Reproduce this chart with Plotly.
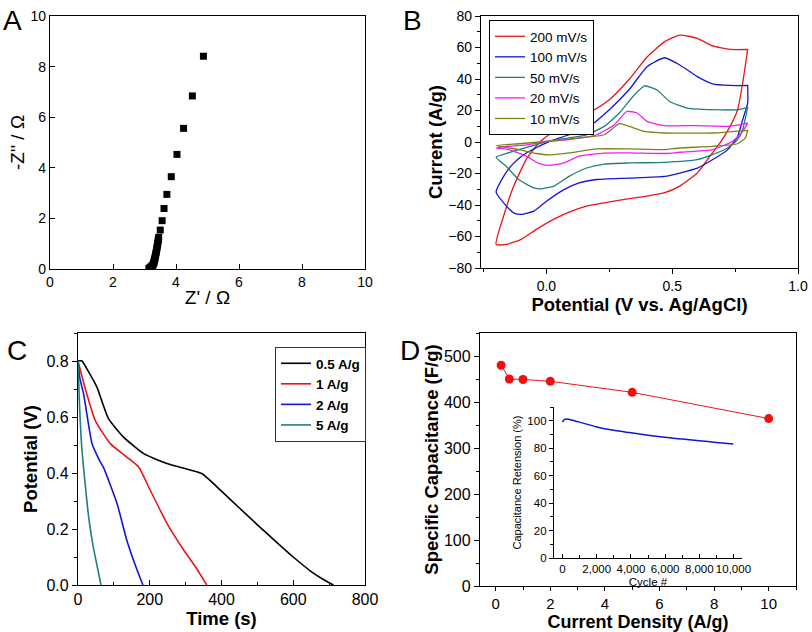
import plotly.graph_objects as go

W, H = 812, 632

# ---------------- Panel A data (Nyquist) ----------------
a_zre = [3.14, 3.16, 3.18, 3.20, 3.22, 3.24, 3.26, 3.28, 3.29, 3.30, 3.31, 3.32, 3.33,
         3.34, 3.35, 3.36, 3.37, 3.38, 3.39, 3.40, 3.41, 3.42, 3.43, 3.44, 3.45,
         3.50, 3.56, 3.62, 3.71, 3.85, 4.03, 4.24, 4.52, 4.87]
a_zim = [0.02, 0.03, 0.05, 0.07, 0.09, 0.12, 0.15, 0.19, 0.23, 0.27, 0.32, 0.37, 0.42,
         0.48, 0.54, 0.60, 0.66, 0.73, 0.80, 0.87, 0.94, 1.01, 1.09, 1.17, 1.25,
         1.54, 1.91, 2.39, 2.95, 3.65, 4.53, 5.56, 6.84, 8.41]

# ---------------- Panel B data (CV loops) ----------------
b_names = ["200 mV/s", "100 mV/s", "50 mV/s", "20 mV/s", "10 mV/s"]
b_colors = ["#e8161b", "#1515d6", "#1f7f7a", "#f01ef0", "#80801a"]
b_v = [
    [-0.2, -0.17, -0.13, -0.08, -0.03, 0.01, 0.09, 0.17, 0.25, 0.33, 0.40, 0.47, 0.53, 0.60, 0.66, 0.73, 0.80,
     0.80, 0.78, 0.76, 0.73, 0.69, 0.65, 0.60, 0.53, 0.47, 0.40, 0.33, 0.23, 0.16, 0.10, 0.03, -0.04, -0.10, -0.16, -0.2],
    [-0.2, -0.17, -0.13, -0.08, -0.03, 0.01, 0.09, 0.17, 0.25, 0.33, 0.40, 0.47, 0.53, 0.60, 0.66, 0.73, 0.80,
     0.80, 0.80, 0.78, 0.76, 0.72, 0.66, 0.60, 0.53, 0.47, 0.33, 0.20, 0.13, 0.07, 0.00, -0.05, -0.10, -0.13, -0.17, -0.2],
    [-0.2, -0.16, -0.11, -0.04, 0.01, 0.09, 0.16, 0.23, 0.29, 0.35, 0.39, 0.44, 0.49, 0.56, 0.66, 0.76, 0.80,
     0.80, 0.78, 0.76, 0.72, 0.66, 0.60, 0.47, 0.33, 0.23, 0.16, 0.09, 0.03, -0.02, -0.05, -0.11, -0.16, -0.2],
    [-0.2, -0.15, -0.07, 0.01, 0.09, 0.20, 0.27, 0.32, 0.36, 0.40, 0.47, 0.60, 0.73, 0.80,
     0.80, 0.78, 0.74, 0.66, 0.53, 0.47, 0.33, 0.23, 0.13, 0.07, 0.01, -0.03, -0.08, -0.15, -0.2],
    [-0.2, -0.11, 0.01, 0.13, 0.23, 0.29, 0.33, 0.39, 0.47, 0.66, 0.80,
     0.80, 0.79, 0.76, 0.66, 0.53, 0.47, 0.33, 0.20, 0.09, 0.01, -0.04, -0.11, -0.2],
]
b_i = [
    [-65, -47, -28, -11, -0.6, 4.6, 12, 18.4, 26.8, 40, 54, 63.7, 67.9, 65.8, 61, 58.8, 58.8,
     58.8, 37.3, 20.5, 9.9, -0.6, -9, -19.6, -28, -32.2, -34.3, -36, -38.6, -40.7, -43.9, -49, -55.5, -61.8, -65, -65],
    [-31.9, -21.8, -13.4, -7, -2.8, 0.3, 4.6, 9.9, 20.5, 33.5, 47.8, 53.5, 48.9, 41.5, 36.9, 35.9, 35.9,
     35.9, 24.7, 14.1, 3.5, -5, -11.3, -16.6, -19.7, -21.8, -22.9, -23.8, -26, -30.2, -37.6, -43.9, -46, -45, -38.6, -31.9],
    [-9.7, -7.3, -4.8, -1.6, 0.5, 2.6, 4.6, 9.9, 18.4, 30, 35.7, 33, 25.7, 21.5, 20.5, 20.5, 22,
     22, 7.8, 1.5, -3.8, -8, -11.2, -12.9, -13.3, -14, -16.5, -21.8, -28, -29.7, -29.1, -23.8, -15.4, -9.7],
    [-3.8, -2.7, -1.6, 0.5, 1.5, 4.6, 11, 19.4, 18.4, 13.1, 10.4, 10.4, 10, 12,
     12, 6.7, 0.4, -4.8, -6.5, -7.3, -6.9, -7, -9, -13.2, -14.9, -13.6, -9, -4.8, -3.8],
    [-2.3, -1.1, 0.5, 2.6, 4.6, 11.6, 9.9, 6.7, 5.7, 5.7, 7.4,
     7.4, 2.5, -1.1, -2.8, -3.8, -4.8, -4.4, -4.4, -6.9, -8.2, -7.3, -4.8, -2.3],
]

# ---------------- Panel C data (discharge) ----------------
c_names = ["0.5 A/g", "1 A/g", "2 A/g", "5 A/g"]
c_colors = ["#000000", "#e8161b", "#1515d6", "#1f7f7a"]
c_t = [
    [0, 11, 30, 53, 85, 127, 183, 248, 300, 345, 400, 450, 500, 550, 600, 650, 690, 712],
    [0, 8, 25, 48, 90, 136, 170, 197, 248, 294, 330, 359],
    [0, 5, 16, 39, 62, 71, 109, 136, 160, 181],
    [0, 4, 10, 20, 30, 42, 53, 64],
]
c_p = [
    [0.80, 0.80, 0.76, 0.706, 0.594, 0.528, 0.469, 0.434, 0.415, 0.398, 0.335, 0.275, 0.215, 0.157, 0.10,
     0.048, 0.015, 0.0],
    [0.80, 0.76, 0.68, 0.588, 0.505, 0.457, 0.42, 0.35, 0.22, 0.126, 0.06, 0.0],
    [0.80, 0.74, 0.68, 0.505, 0.44, 0.42, 0.29, 0.16, 0.07, 0.0],
    [0.80, 0.65, 0.50, 0.36, 0.24, 0.14, 0.07, 0.0],
]

# ---------------- Panel D data ----------------
d_cd = [0.2, 0.5, 1, 2, 5, 10]
d_cap = [480, 450, 449, 445, 421, 364]
inset_cycle = [0, 100, 250, 500, 1000, 2000, 3000, 4000, 5000, 6000, 7000, 8000, 9000, 10000]
inset_ret = [99, 100.8, 101.2, 100.6, 99.0, 95.5, 93.0, 91.2, 89.5, 88.0, 86.6, 85.4, 84.2, 83.0]

FONT = "Liberation Sans, Arial, Helvetica, sans-serif"


def xd(a, b):
    return [a / W, b / W]


def yd(top, bottom):
    return [1 - bottom / H, 1 - top / H]


fig = go.Figure()

# Panel A
fig.add_trace(go.Scatter(x=a_zre, y=a_zim, mode="markers", xaxis="x", yaxis="y",
                         marker=dict(symbol="square", size=7, color="black"), showlegend=False))

# Panel B
for n, c, v, i in zip(b_names, b_colors, b_v, b_i):
    fig.add_trace(go.Scatter(x=v, y=i, mode="lines", name=n, xaxis="x2", yaxis="y2",
                             line=dict(color=c, width=1.3, shape="spline", smoothing=0.5),
                             legend="legend"))

# Panel C
for n, c, t, p in zip(c_names, c_colors, c_t, c_p):
    fig.add_trace(go.Scatter(x=t, y=p, mode="lines", name=n, xaxis="x3", yaxis="y3",
                             line=dict(color=c, width=1.6, shape="spline", smoothing=0.5),
                             legend="legend2"))

# Panel D
fig.add_trace(go.Scatter(x=d_cd, y=d_cap, mode="lines+markers", xaxis="x4", yaxis="y4",
                         line=dict(color="#e8161b", width=1),
                         marker=dict(size=9, color="#f01010"), showlegend=False))
fig.add_trace(go.Scatter(x=inset_cycle, y=inset_ret, mode="lines", xaxis="x5", yaxis="y5",
                         line=dict(color="#1515d6", width=1.5, shape="spline"), showlegend=False))


def tf(size, weight="normal"):
    return dict(family=FONT, size=size, color="black", weight=weight)


def ax(domain, rng, dtick, ticks="outside", minor=None, title=None, standoff=None,
       mirror=True, anchor=None, font=None, bold=False, **kw):
    d = dict(domain=domain, range=rng, dtick=dtick, ticks=ticks, ticklen=5, tickwidth=1,
             tickcolor="black", showline=True, linecolor="black", linewidth=1.3,
             mirror=mirror, showgrid=False, zeroline=False, tickfont=font or tf(14),
             anchor=anchor, automargin=False)
    if minor is not None:
        d["minor"] = dict(dtick=minor, ticks=ticks, ticklen=3, tickcolor="black", showgrid=False)
    if title is not None:
        txt = "<b>%s</b>" % title[0] if bold else title[0]
        d["title"] = dict(text=txt, font=tf(title[1]), standoff=standoff)
    d.update(kw)
    return d


layout = dict(
    template="none",
    width=W, height=H, autosize=False, margin=dict(l=0, r=0, t=0, b=0, pad=0),
    paper_bgcolor="white", plot_bgcolor="rgba(0,0,0,0)",
    font=dict(family=FONT, color="black"),
    # A
    xaxis=ax(xd(50, 365), [0, 10], 2, ticks="inside", title=("Z' / Ω", 19), standoff=1, anchor="y"),
    yaxis=ax(yd(16, 269), [0, 10], 2, ticks="inside", title=("-Z'' / Ω", 19), standoff=0, anchor="x"),
    # B
    xaxis2=ax(xd(481, 798), [-0.26, 1.0], 0.5, minor=0.25, title=("Potential (V vs. Ag/AgCl)", 18.5),
              bold=True, standoff=4, anchor="y2", tickformat=".1f"),
    yaxis2=ax(yd(16, 268), [-80, 80], 20, minor=10, title=("Current (A/g)", 18.5), bold=True,
              standoff=0, anchor="x2"),
    # C
    xaxis3=ax(xd(78, 365), [0, 800], 200, minor=100, ticks="inside", title=("Time (s)", 18.5), bold=True,
              standoff=4, anchor="y3", font=tf(16)),
    yaxis3=ax(yd(333, 585), [0, 0.9], 0.2, minor=0.1, title=("Potential (V)", 18.5), bold=True,
              standoff=3, anchor="x3", tickformat=".1f", font=tf(16)),
    # D
    xaxis4=ax(xd(480, 796), [-0.575, 11.0], 2, minor=1, title=("Current Density (A/g)", 18), bold=True,
              standoff=5, anchor="y4", font=tf(15), ticklen=4),
    yaxis4=ax(yd(333, 586), [0, 550], 100, minor=50, title=("Specific Capacitance (F/g)", 18.5), bold=True,
              standoff=0, anchor="x4", font=tf(16)),
    # inset
    xaxis5=ax(xd(554, 742), [-500, 10500], 2000, minor=1000, ticks="inside", mirror=False, anchor="y5",
              title=("Cycle #", 11.5), standoff=3, tickformat=",d", ticklen=4, font=tf(11.5)),
    yaxis5=ax(yd(407, 558), [0, 110], 20, minor=10, mirror=False, anchor="x5",
              title=("Capacitance Retension (%)", 11), standoff=3, ticklen=4, font=tf(11.5)),
    legend=dict(x=489 / W, y=1 - 20 / H, xanchor="left", yanchor="top", bgcolor="white",
                bordercolor="black", borderwidth=1, font=tf(13.5),
                tracegroupgap=0, itemwidth=30),
    legend2=dict(x=275 / W, y=1 - 347 / H, xanchor="left", yanchor="top", bgcolor="white",
                 bordercolor="#333", borderwidth=1, font=tf(13.5, "bold"),
                 tracegroupgap=0, itemwidth=30),
)

annotations = []
for lbl, x, y in [("A", 1, 3), ("B", 401, 3), ("C", 5, 333), ("D", 398, 333)]:
    annotations.append(dict(text=lbl, x=x / W, y=1 - y / H, xref="paper", yref="paper",
                            xanchor="left", yanchor="top", showarrow=False,
                            font=dict(family=FONT, size=28, color="black")))
layout["annotations"] = annotations

fig.update_layout(**layout)
fig.write_html("out.html", config={"displayModeBar": False},
               post_script="document.body.style.margin='0';")
